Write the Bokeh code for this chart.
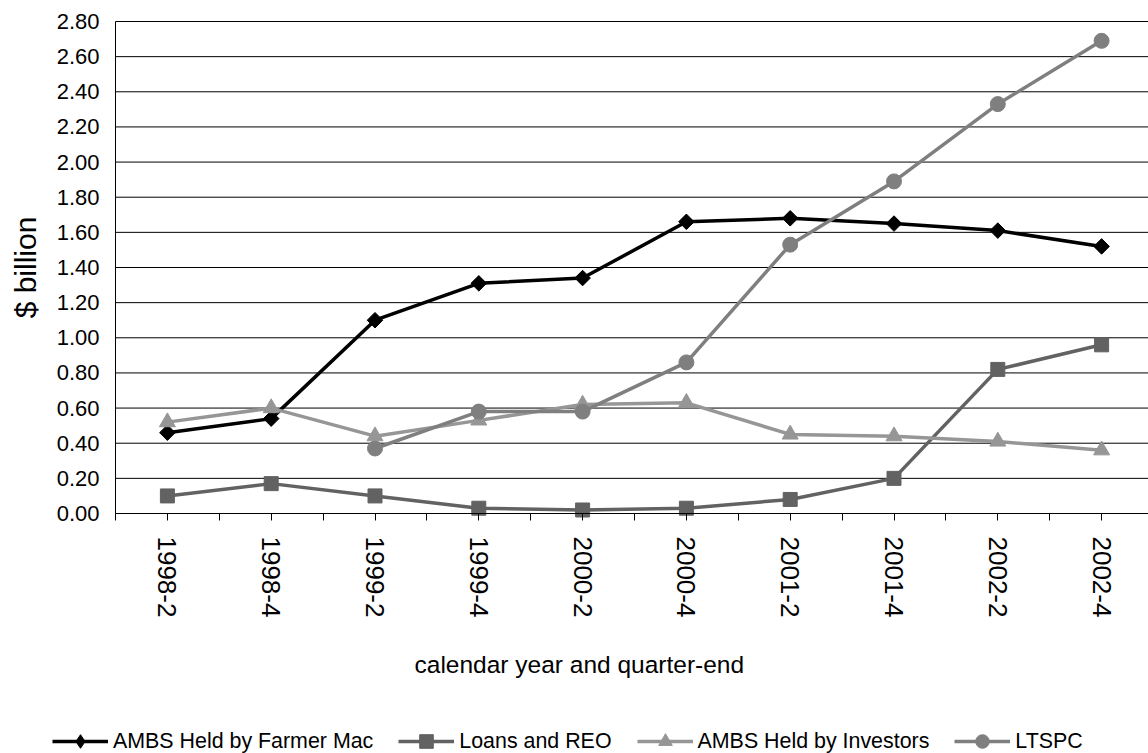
import math

from bokeh.plotting import figure
from bokeh.models import (Range1d, FixedTicker, NumeralTickFormatter, Legend, LegendItem,
                          Label)
from bokeh.embed import file_html
from bokeh.resources import INLINE

# Quarter-end labels and series values ($ billion)
quarters = ["1998-2", "1998-4", "1999-2", "1999-4", "2000-2",
            "2000-4", "2001-2", "2001-4", "2002-2", "2002-4"]
ambs_farmer_mac = [0.46, 0.54, 1.10, 1.31, 1.34, 1.66, 1.68, 1.65, 1.61, 1.52]
loans_reo = [0.10, 0.17, 0.10, 0.03, 0.02, 0.03, 0.08, 0.20, 0.82, 0.96]
ambs_investors = [0.52, 0.60, 0.44, 0.53, 0.62, 0.63, 0.45, 0.44, 0.41, 0.36]
ltspc = [math.nan, math.nan, 0.37, 0.58, 0.58, 0.86, 1.53, 1.89, 2.33, 2.69]
y_ticks = [0.0, 0.2, 0.4, 0.6, 0.8, 1.0, 1.2, 1.4, 1.6, 1.8, 2.0, 2.2, 2.4, 2.6, 2.8]

FONT = "Liberation Sans"
W, H = 1148, 753
xs = list(range(len(quarters)))

# name, values, colour, plot marker, size, angle, legend marker
series = [
    ("AMBS Held by Farmer Mac", ambs_farmer_mac, "#000000", "square", 11, math.pi / 4, "diamond"),
    ("Loans and REO", loans_reo, "#626262", "square", 14, 0, "square"),
    ("AMBS Held by Investors", ambs_investors, "#969696", "triangle", 16, 0, "triangle"),
    ("LTSPC", ltspc, "#7f7f7f", "circle", 15, 0, "circle"),
]

# The frame covers the whole canvas; the axes sit at fixed data locations,
# so the legend and titles under the plot area are drawn inside the frame.
plot_left, plot_top, plot_bottom = 115, 21, 513      # pixel edges of the plot area
band = 103.8                                          # pixels per quarter
y_lo, y_hi = y_ticks[0], y_ticks[-1]
x_lo = -0.5
x_hi = x_lo + (W - plot_left) / band
x_start = x_lo - plot_left / band
ppu = (plot_bottom - plot_top) / (y_hi - y_lo)
y_start = y_lo - (H - plot_bottom) / ppu
y_end = y_hi + plot_top / ppu

p = figure(width=W, height=H, output_backend="svg", toolbar_location=None,
           x_range=Range1d(x_start, x_hi), y_range=Range1d(y_start, y_end),
           min_border=0, min_border_left=0, min_border_right=0,
           min_border_top=0, min_border_bottom=0)
p.outline_line_color = None
p.background_fill_color = "white"
p.border_fill_color = "white"
p.xgrid.visible = False
p.ygrid.visible = False

# horizontal gridlines across the plot area only
p.segment(x0=[x_lo] * len(y_ticks), x1=[x_hi] * len(y_ticks), y0=y_ticks, y1=y_ticks,
          line_color="black", line_width=1)

# y axis
yax = p.yaxis[0]
yax.fixed_location = x_lo
yax.bounds = (y_lo, y_hi)
yax.ticker = FixedTicker(ticks=y_ticks)
yax.formatter = NumeralTickFormatter(format="0.00")
yax.major_tick_out = 0
yax.major_tick_in = 0
yax.minor_tick_out = 0
yax.minor_tick_in = 0
yax.major_label_standoff = 16
yax.major_label_text_font = FONT
yax.major_label_text_font_size = "22px"
yax.major_label_text_color = "black"
yax.axis_label = "$ billion"
yax.axis_label_text_font = FONT
yax.axis_label_text_font_size = "30px"
yax.axis_label_text_font_style = "normal"
yax.axis_label_text_color = "black"
yax.axis_label_standoff = 12
yax.axis_line_color = "black"

# x axis: quarter labels at band centres, tick marks at centres and band edges
xax = p.xaxis[0]
xax.fixed_location = y_lo
xax.bounds = (x_lo, x_hi)
xax.ticker = FixedTicker(ticks=xs, minor_ticks=[i - 0.5 for i in range(len(quarters) + 1)])
xax.major_label_overrides = {i: q for i, q in enumerate(quarters)}
xax.major_label_orientation = "vertical"
xax.major_tick_out = 7
xax.major_tick_in = 0
xax.minor_tick_out = 7
xax.minor_tick_in = 0
xax.major_tick_line_color = "black"
xax.minor_tick_line_color = "black"
xax.major_label_standoff = 16
xax.major_label_text_font = FONT
xax.major_label_text_font_size = "26px"
xax.major_label_text_color = "black"
xax.axis_line_color = "black"

items = []
for name, vals, color, marker, size, angle, key_marker in series:
    ln = p.line(xs, vals, line_color=color, line_width=3.5)
    p.scatter(xs, vals, marker=marker, size=size, angle=angle,
              fill_color=color, line_color=color)
    # hidden copy of the points, used only to draw the legend key marker
    key = p.scatter(xs, vals, marker=key_marker, fill_color=color, line_color=color,
                    visible=False)
    items.append(LegendItem(label=name, renderers=[ln, key]))

# x-axis title
p.add_layout(Label(x=414, y=89, x_units="screen", y_units="screen",
                   text="calendar year and quarter-end", text_font=FONT,
                   text_font_size="24.5px", text_color="black",
                   text_align="left", text_baseline="alphabetic"))

legend = Legend(items=items, location=(52, -5), orientation="horizontal",
                label_text_font=FONT, label_text_font_size="21.4px",
                label_text_color="black", glyph_width=56, glyph_height=34,
                label_standoff=5, spacing=25, padding=0, margin=0,
                border_line_color=None, background_fill_alpha=0,
                inactive_fill_alpha=0)
p.add_layout(legend, "center")

open("out.html", "w").write(file_html(p, INLINE))
